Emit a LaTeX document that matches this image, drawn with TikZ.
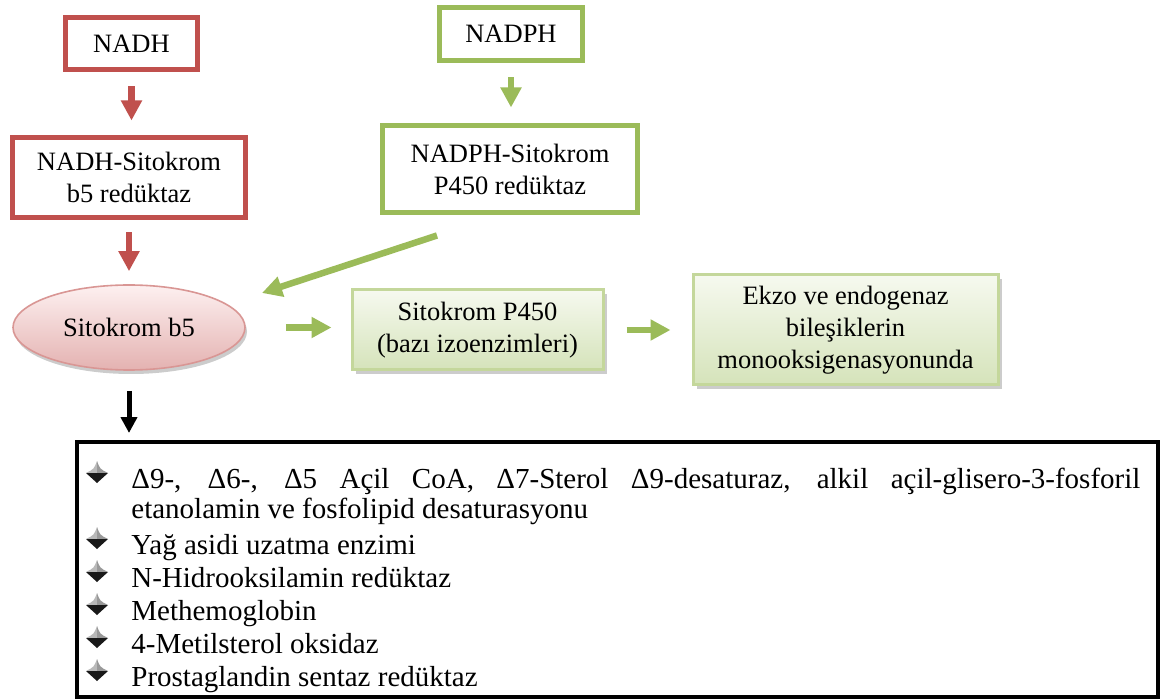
\documentclass[tikz,border=0pt]{standalone}
\usepackage{fontspec}
\setmainfont{Liberation Serif}
\usetikzlibrary{shapes, arrows.meta, positioning, shadows, calc}
\definecolor{NadhRed}{RGB}{192, 80, 77}
\definecolor{NadphGreen}{RGB}{155, 187, 89}
\definecolor{BfiveLine}{RGB}{217, 150, 148}
\definecolor{BfiveTop}{RGB}{253, 240, 240}
\definecolor{BfiveBottom}{RGB}{228, 178, 177}
\definecolor{SoftLine}{RGB}{196, 215, 155}
\definecolor{SoftTop}{RGB}{246, 249, 239}
\definecolor{SoftBottom}{RGB}{213, 227, 186}

\newcommand{\boxfont}{\fontsize{13.25}{16}\selectfont}
\newcommand{\listfont}{\fontsize{14.5}{16}\selectfont}

\tikzset{
    redbox/.style={draw=NadhRed, line width=2.5pt, align=center, font=\boxfont, inner sep=0pt},
    greenbox/.style={draw=NadphGreen, line width=2.5pt, align=center, font=\boxfont, inner sep=0pt},
    softbox/.style={draw=SoftLine, line width=1.5pt, top color=SoftTop, bottom color=SoftBottom,
        drop shadow={shadow xshift=2pt, shadow yshift=-2pt, fill=black!40},
        align=center, font=\boxfont, inner sep=0pt},
    bfive/.style={ellipse, draw=BfiveLine, line width=0.8pt, top color=BfiveTop, bottom color=BfiveBottom,
        drop shadow={shadow xshift=1pt, shadow yshift=-2pt, fill=black!40},
        font=\boxfont, inner sep=0pt},
    redarrow/.style={draw=NadhRed, line width=3.25pt, -{Triangle[width=10pt, length=10pt]}},
    greenarrow/.style={draw=NadphGreen, line width=3.25pt, -{Triangle[width=10pt, length=10pt]}},
    blackarrow/.style={draw=black, line width=2.5pt, -{Triangle[width=8pt, length=8pt]}},
    listbox/.style={draw=black, line width=2pt, inner sep=0pt},
    itemtext/.style={font=\listfont, inner sep=0pt, anchor=base west}
}

\begin{document}
\begin{tikzpicture}[x=0.5pt, y=-0.5pt]
    \useasboundingbox (0,0) rectangle (1165,699);

    % NADH side
    \node[redbox, minimum width=66pt, minimum height=26pt] (nadh) at (131.5,43.5) {NADH};
    \node[redbox, minimum width=116.5pt, minimum height=40pt] (bredux) at (129,177.5) {NADH-Sitokrom\\b5 redüktaz};
    \node[bfive, minimum width=116pt, minimum height=42.5pt] (bfive) at (129,327.5) {Sitokrom b5};

    % NADPH side
    \node[greenbox, minimum width=71.5pt, minimum height=26.5pt] (nadph) at (511,34) {NADPH};
    \node[greenbox, minimum width=127.5pt, minimum height=43.5pt] (predux) at (510,169) {NADPH-Sitokrom\\P450 redüktaz};

    \node[softbox, minimum width=125.5pt, minimum height=40pt] (pfourfifty) at (477.5,330) {Sitokrom P450\\(bazı izoenzimleri)};
    \node[softbox, minimum width=152.5pt, minimum height=55pt] (ekzo) at (845.5,330) {Ekzo ve endogenaz\\bileşiklerin\\monooksigenasyonunda};

    \draw[redarrow, shorten <=7.25pt, shorten >=7.25pt] (nadh.south) -- (nadh.south |- bredux.north);
    \draw[redarrow, shorten <=6.25pt, shorten >=6.5pt] (bredux.south) -- (bredux.south |- bfive.north);
    \draw[greenarrow, shorten <=7.25pt, shorten >=7.75pt] (nadph.south) -- (nadph.south |- predux.north);
    \draw[greenarrow] ([xshift=-36.5pt, yshift=-10.25pt]predux.south) -- ([xshift=66.5pt, yshift=17.25pt]bfive.center);
    \draw[greenarrow, shorten <=20pt, shorten >=9.5pt] (bfive.east) -- (bfive.east -| pfourfifty.west);
    \draw[greenarrow, shorten <=11pt, shorten >=10.5pt] (pfourfifty.east) -- (pfourfifty.east -| ekzo.west);

    % list of b5 functions
    \node[listbox, minimum width=540.5pt, minimum height=127.5pt] (funcs) at (617.5,569.5) {};
    \draw[blackarrow, shorten <=10pt, shorten >=3.5pt] (bfive.south) -- (bfive.south |- funcs.north);

    \node[itemtext, text width=504.5pt, align=justify, font=\fontsize{14.5}{15.25}\selectfont] (item488) at (131,488)
        {Δ9-, Δ6-, Δ5 Açil CoA, Δ7-Sterol Δ9-desaturaz, alkil açil-glisero-3-fosforil\linebreak etanolamin ve fosfolipid desaturasyonu};
    \foreach \yy/\txt in {554/Yağ asidi uzatma enzimi, 587/N-Hidrooksilamin redüktaz, 620/Methemoglobin,
            653/4-Metilsterol oksidaz, 686/Prostaglandin sentaz redüktaz}
        \node[itemtext, name=item\yy] at (131,\yy) {\txt};

    % bullets
    \foreach \yy in {488,554,587,620,653,686} {
        \begin{scope}[shift={(97,\yy-15)}]
            \fill[gray!55] (0,-12) .. controls (-3,-4) .. (-11,0) -- (0,0) -- cycle;
            \fill[gray!80] (0,-12) .. controls (3,-4) .. (11,0) -- (0,0) -- cycle;
            \fill[black!90] (-11,0) -- (11,0) -- (0,10) -- cycle;
        \end{scope}
    }
\end{tikzpicture}
\end{document}
